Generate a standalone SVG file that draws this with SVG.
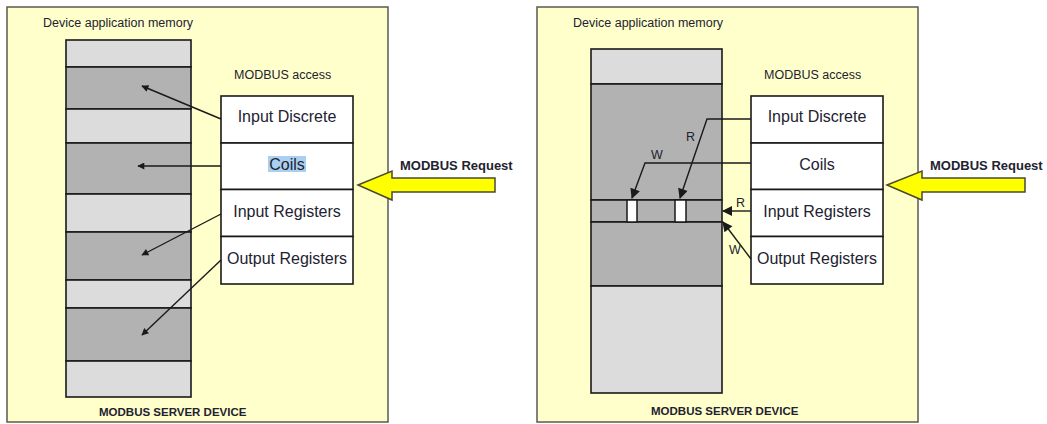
<svg xmlns="http://www.w3.org/2000/svg" width="1047" height="424" viewBox="0 0 1047 424">
  <defs>
    <style>
      .panel { fill: #ffffcc; stroke: #5a5a50; stroke-width: 1.5; }
      .mem { stroke: #1a1a1a; stroke-width: 1.6; }
      .light { fill: #dcdcdc; }
      .dark { fill: #b2b2b2; }
      .cell { fill: #ffffff; stroke: #1a1a1a; stroke-width: 1.6; }
      .slot { fill: #ffffff; stroke: #1a1a1a; stroke-width: 1.5; }
      .t { font-family: "Liberation Sans", Arial, sans-serif; fill: #222230; }
      .small { font-size: 12.5px; }
      .cellt { font-size: 16px; text-anchor: middle; }
      .bold { font-weight: bold; }
      .link { fill: none; stroke: #1a1a1a; stroke-width: 1.4; }
      .req { fill: #ffff00; stroke: #4a4a30; stroke-width: 1.5; stroke-linejoin: miter; }
    </style>
    <marker id="ah-s" viewBox="0 0 10 10" refX="9" refY="5" markerWidth="8" markerHeight="7" markerUnits="userSpaceOnUse" orient="auto">
      <path d="M0,0 L10,5 L0,10 z" fill="#1a1a1a"/>
    </marker>
    <marker id="ah-l" viewBox="0 0 10 10" refX="9" refY="5" markerWidth="12" markerHeight="10" markerUnits="userSpaceOnUse" orient="auto">
      <path d="M0,0 L10,5 L0,10 z" fill="#1a1a1a"/>
    </marker>
  </defs>

  <!-- ===== Left device: one memory block per access table ===== -->
  <g id="device-left">
    <rect class="panel" x="7" y="7" width="381" height="415"/>
    <text class="t small" x="43" y="27">Device application memory</text>
    <text class="t small" x="234" y="79">MODBUS access</text>
    <text class="t bold" x="99" y="416" font-size="11.5">MODBUS SERVER DEVICE</text>
  </g>

  <g id="memory-left">
    <rect class="mem light" x="66" y="40" width="125" height="27"/>
    <rect class="mem dark" x="66" y="67" width="125" height="42"/>
    <rect class="mem light" x="66" y="109" width="125" height="34"/>
    <rect class="mem dark" x="66" y="143" width="125" height="51"/>
    <rect class="mem light" x="66" y="194" width="125" height="38"/>
    <rect class="mem dark" x="66" y="232" width="125" height="48"/>
    <rect class="mem light" x="66" y="280" width="125" height="28"/>
    <rect class="mem dark" x="66" y="308" width="125" height="53"/>
    <rect class="mem light" x="66" y="361" width="125" height="36"/>
  </g>

  <g id="access-left">
    <g id="l-input-discrete">
      <rect class="cell" x="221" y="96" width="132" height="47"/>
      <text class="t cellt" x="287" y="122">Input Discrete</text>
    </g>
    <g id="l-coils">
      <rect class="cell" x="221" y="143" width="132" height="46.5"/>
      <rect x="268" y="156" width="38" height="16" fill="#a9d0f0"/>
      <text class="t cellt" x="287" y="169.5">Coils</text>
    </g>
    <g id="l-input-registers">
      <rect class="cell" x="221" y="189.5" width="132" height="47"/>
      <text class="t cellt" x="287" y="216.5">Input Registers</text>
    </g>
    <g id="l-output-registers">
      <rect class="cell" x="221" y="236.5" width="132" height="47.5"/>
      <text class="t cellt" x="287" y="263.5">Output Registers</text>
    </g>
  </g>

  <g id="request-left">
    <text class="t bold" x="400" y="169.5" font-size="13px">MODBUS Request</text>
    <path class="req" d="M358,185 L392,171 L392,178 L495,178 L495,192 L392,192 L392,200 z"/>
  </g>

  <g id="connectors-left">
    <line class="link" x1="221" y1="119" x2="142" y2="86" marker-end="url(#ah-s)"/>
    <line class="link" x1="221" y1="166" x2="138" y2="166" marker-end="url(#ah-s)"/>
    <line class="link" x1="221" y1="214" x2="142" y2="255" marker-end="url(#ah-s)"/>
    <line class="link" x1="221" y1="260" x2="142" y2="335" marker-end="url(#ah-s)"/>
  </g>

  <!-- ===== Right device: access tables share one memory area ===== -->
  <g id="device-right">
    <rect class="panel" x="537" y="7" width="381" height="415"/>
    <text class="t small" x="573" y="27">Device application memory</text>
    <text class="t small" x="764" y="79">MODBUS access</text>
    <text class="t bold" x="651" y="415" font-size="11.5">MODBUS SERVER DEVICE</text>
  </g>

  <g id="memory-right">
    <rect class="mem light" x="591" y="49" width="131" height="35"/>
    <rect class="mem dark" x="591" y="84" width="131" height="116"/>
    <rect class="mem dark" x="591" y="200" width="131" height="22"/>
    <rect class="mem dark" x="591" y="222" width="131" height="64"/>
    <rect class="mem light" x="591" y="286" width="131" height="107"/>
    <rect class="slot" x="627" y="200" width="10" height="22"/>
    <rect class="slot" x="675" y="200" width="11" height="22"/>
  </g>

  <g id="access-right">
    <g id="r-input-discrete">
      <rect class="cell" x="751" y="96" width="132" height="47"/>
      <text class="t cellt" x="817" y="122">Input Discrete</text>
    </g>
    <g id="r-coils">
      <rect class="cell" x="751" y="143" width="132" height="46.5"/>
      <text class="t cellt" x="817" y="169.5">Coils</text>
    </g>
    <g id="r-input-registers">
      <rect class="cell" x="751" y="189.5" width="132" height="47"/>
      <text class="t cellt" x="817" y="216.5">Input Registers</text>
    </g>
    <g id="r-output-registers">
      <rect class="cell" x="751" y="236.5" width="132" height="47.5"/>
      <text class="t cellt" x="817" y="263.5">Output Registers</text>
    </g>
  </g>

  <g id="request-right">
    <text class="t bold" x="930" y="169.5" font-size="13px">MODBUS Request</text>
    <path class="req" d="M887,185 L922,171 L922,178 L1025,178 L1025,192 L922,192 L922,200 z"/>
  </g>

  <g id="connectors-right">
    <polyline class="link" points="751,119 707,119 680,198" marker-end="url(#ah-l)"/>
    <polyline class="link" points="751,163 645,163 632,198" marker-end="url(#ah-l)"/>
    <line class="link" x1="751" y1="211" x2="723" y2="211" marker-end="url(#ah-l)"/>
    <line class="link" x1="751" y1="259" x2="723" y2="222" marker-end="url(#ah-l)"/>
    <text class="t" x="686" y="141" font-size="12.5px">R</text>
    <text class="t" x="651" y="159" font-size="12.5px">W</text>
    <text class="t" x="736" y="207" font-size="12.5px">R</text>
    <text class="t" x="729" y="254" font-size="12.5px">W</text>
  </g>
</svg>
